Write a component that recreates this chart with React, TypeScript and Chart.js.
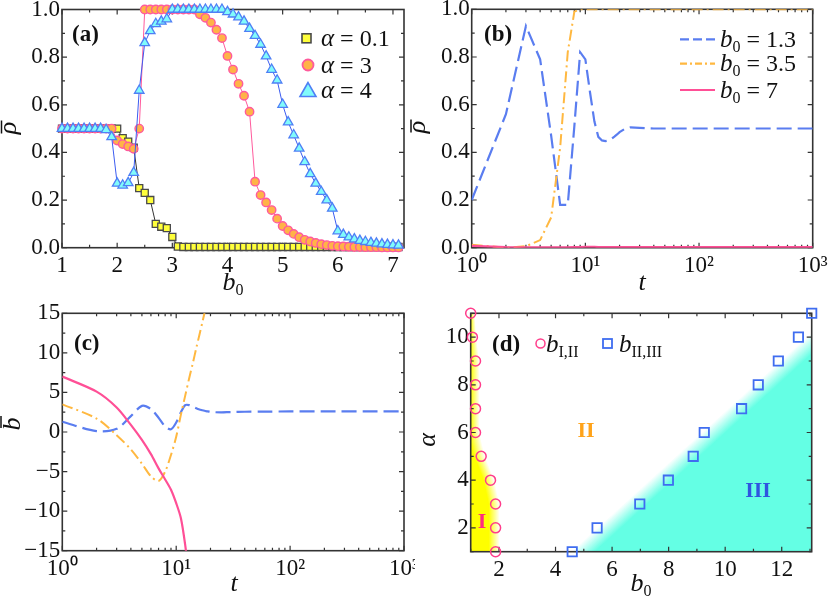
import React, { useEffect, useRef } from 'react';
import { Chart, registerables } from 'chart.js';
Chart.register(...registerables);

// ---------------- data: panel (a) ----------------
const b0Values = [1.0, 1.1, 1.2, 1.3, 1.4, 1.5, 1.6, 1.7, 1.8, 1.9, 2.0, 2.1, 2.2, 2.3, 2.4, 2.5, 2.6, 2.7, 2.8, 2.9, 3.0, 3.1, 3.2, 3.3, 3.4, 3.5, 3.6, 3.7, 3.8, 3.9, 4.0, 4.1, 4.2, 4.3, 4.4, 4.5, 4.6, 4.7, 4.8, 4.9, 5.0, 5.1, 5.2, 5.3, 5.4, 5.5, 5.6, 5.7, 5.8, 5.9, 6.0, 6.1, 6.2, 6.3, 6.4, 6.5, 6.6, 6.7, 6.8, 6.9, 7.0, 7.1];
const rhoAlpha01 = [0.5, 0.5, 0.5, 0.5, 0.5, 0.5, 0.5, 0.5, 0.5, 0.5, 0.5, 0.46, 0.445, 0.42, 0.25, 0.23, 0.2, 0.1, 0.088, 0.082, 0.045, 0.005, 0.003, 0.003, 0.003, 0.003, 0.003, 0.003, 0.003, 0.003, 0.003, 0.003, 0.003, 0.003, 0.003, 0.003, 0.003, 0.003, 0.003, 0.003, 0.003, 0.003, 0.003, 0.003, 0.003, 0.003, 0.003, 0.003, 0.003, 0.003, 0.003, 0.003, 0.003, 0.003, 0.003, 0.003, 0.003, 0.003, 0.003, 0.003, 0.003, 0.003];
const rhoAlpha3 = [0.5, 0.5, 0.5, 0.5, 0.5, 0.5, 0.5, 0.5, 0.5, 0.5, 0.45, 0.435, 0.425, 0.415, 0.5, 1.0, 1.0, 1.0, 1.0, 1.0, 1.0, 1.0, 1.0, 1.0, 1.0, 0.98, 0.965, 0.945, 0.915, 0.88, 0.805, 0.748, 0.688, 0.638, 0.571, 0.277, 0.221, 0.19, 0.158, 0.122, 0.091, 0.073, 0.058, 0.044, 0.033, 0.026, 0.02, 0.015, 0.011, 0.008, 0.006, 0.005, 0.004, 0.003, 0.003, 0.002, 0.002, 0.002, 0.001, 0.001, 0.001, 0.001];
const rhoAlpha4 = [0.5, 0.5, 0.5, 0.5, 0.5, 0.5, 0.5, 0.5, 0.495, 0.465, 0.27, 0.262, 0.272, 0.315, 0.66, 0.86, 0.91, 0.94, 0.95, 0.96, 1.0, 1.0, 1.0, 1.0, 1.0, 1.0, 1.0, 1.0, 1.0, 1.0, 0.99, 0.98, 0.968, 0.95, 0.92, 0.89, 0.853, 0.804, 0.748, 0.703, 0.601, 0.527, 0.473, 0.417, 0.36, 0.31, 0.27, 0.235, 0.2, 0.165, 0.07, 0.055, 0.044, 0.036, 0.03, 0.025, 0.021, 0.018, 0.015, 0.013, 0.011, 0.01];

// ---------------- data: panels (b) and (c) ----------------
const tValues = [1, 2, 3, 4, 5, 6, 7, 8, 9, 10, 11, 12, 13, 14, 15, 16, 17, 18, 19, 20, 22, 25, 30, 40, 60, 100, 200, 500, 1000];
const rhoB13 = [0.2, 0.56, 0.93, 0.79, 0.47, 0.18, 0.18, 0.51, 0.82, 0.79, 0.65, 0.53, 0.465, 0.45, 0.447, 0.45, 0.457, 0.466, 0.475, 0.485, 0.497, 0.505, 0.503, 0.5, 0.5, 0.5, 0.5, 0.5, 0.5];
const rhoB35 = [0.012, 0.0, 0.006, 0.032, 0.127, 0.42, 0.82, 0.99, 1, 1, 1, 1, 1, 1, 1, 1, 1, 1, 1, 1, 1, 1, 1, 1, 1, 1, 1, 1, 1];
const rhoB7 = [0.008, 0.002, 0.001, 0.001, 0.001, 0.001, 0.001, 0.002, 0.003, 0.004, 0.004, 0.004, 0.003, 0.003, 0.003, 0.003, 0.003, 0.003, 0.003, 0.003, 0.003, 0.003, 0.003, 0.003, 0.003, 0.003, 0.003, 0.003, 0.003];
const bBar13 = [1.3, 0.1, 0.4, 2.0, 3.3, 2.9, 1.8, 0.7, 0.35, 1.2, 2.5, 3.4, 3.4, 3.2, 3.0, 2.85, 2.75, 2.65, 2.6, 2.55, 2.5, 2.48, 2.52, 2.56, 2.58, 2.6, 2.6, 2.6, 2.6];
const tShort = [1, 2, 3, 4, 5, 6, 7, 8, 9, 10, 11, 12, 13, 14, 15, 16, 17, 18, 19];
const bBar35 = [3.5, 1.7, -0.4, -2.2, -4.0, -5.6, -6.2, -5.0, -2.9, -0.6, 2.2, 4.6, 6.8, 8.7, 10.6, 12.3, 13.9, 15.5, 17.0];
const bBar7 = [7, 5.1, 3.1, 0.9, -1.0, -2.8, -4.6, -6.0, -7.3, -9.0, -10.9, -14.3, -18.5];

// ---------------- data: panel (d) ----------------
const alphaValues = [1, 2, 3, 4, 5, 6, 7, 8, 9, 10, 11];
const bI_II = [1.88, 1.88, 1.88, 1.7, 1.37, 1.17, 1.17, 1.17, 1.17, 1.06, 1.0];
const bII_III = [4.59, 5.47, 6.98, 7.99, 8.87, 9.26, 10.58, 11.17, 11.88, 12.59, 13.06];
const phaseIIIEdgeB0 = [4.55, 13.06];
const phaseIIIEdgeAlpha = [1, 10.2];

// ---------------- tick labels ----------------
const aXLabels = [1, 2, 3, 4, 5, 6, 7];
const aXMinor = [1.5, 2.5, 3.5, 4.5, 5.5, 6.5];
const rhoLabels = [0, 0.2, 0.4, 0.6, 0.8, 1.0];
const rhoMinor = [0.1, 0.3, 0.5, 0.7, 0.9];
const logLabels = [1, 10, 100, 1000];
const logMinor = [2, 3, 4, 5, 6, 7, 8, 9, 20, 30, 40, 50, 60, 70, 80, 90, 200, 300, 400, 500, 600, 700, 800, 900];
const cYLabels = [-15, -10, -5, 0, 5, 10, 15];
const cYMinor = [-12.5, -7.5, -2.5, 2.5, 7.5, 12.5];
const dXLabels = [2, 4, 6, 8, 10, 12];
const dXMinor = [1, 3, 5, 7, 9, 11, 13];
const dYLabels = [2, 4, 6, 8, 10];
const dYMinor = [1, 3, 5, 7, 9, 11];

// ---------------- styles ----------------
const W = 830, H = 598;
const YW = 55, XH = 30;
const FONT = '"Liberation Serif", "Times New Roman", serif';
const fnt = (style: string, size: number) => `${style} ${size}px ${FONT}`;
const BLUE = '#5a7df0';
const ORANGE = '#ffb840';
const PINK = '#ff4f96';
const SUP: Record<string, string> = { '0': '\u2070', '1': '\u00b9', '2': '\u00b2', '3': '\u00b3' };

type Area = { l: number; t: number; r: number; b: number };

function axis(type: string, min: number, max: number, labels: number[], fmt: (v: number) => string, horizontal: boolean, pad: number) {
  return {
    type, min, max,
    grid: { display: false, drawTicks: false },
    border: { display: false },
    ticks: {
      autoSkip: false, maxRotation: 0, minRotation: 0, padding: pad, color: '#111',
      font: { family: FONT, size: 23 },
      callback: (v: any) => fmt(Number(v)),
    },
    afterBuildTicks: (s: any) => { s.ticks = labels.map((v) => ({ value: v })); },
    afterFit: (s: any) => {
      if (horizontal) s.height = XH; else s.width = YW;
      s.paddingLeft = 0; s.paddingRight = 0; s.paddingTop = 0; s.paddingBottom = 0;
    },
  };
}

function baseOptions(area: Area, cw: number, xs: any, ys: any) {
  return {
    responsive: false, animation: false, events: [],
    layout: { autoPadding: false, padding: { left: area.l - YW, top: area.t, right: cw - area.r, bottom: H - area.b - XH } },
    plugins: { legend: { display: false }, tooltip: { enabled: false } },
    scales: { x: xs, y: ys },
  };
}

function drawFrame(chart: any, xMajor: number[], xMinor: number[], yMajor: number[], yMinor: number[]) {
  const { ctx, chartArea: a, scales } = chart;
  const xs = scales.x, ys = scales.y;
  ctx.save();
  ctx.strokeStyle = '#333';
  ctx.lineWidth = 1.2;
  ctx.beginPath();
  const xt = (v: number, len: number) => {
    const p = xs.getPixelForValue(v);
    ctx.moveTo(p, a.bottom); ctx.lineTo(p, a.bottom - len);
    ctx.moveTo(p, a.top); ctx.lineTo(p, a.top + len);
  };
  const yt = (v: number, len: number) => {
    const p = ys.getPixelForValue(v);
    ctx.moveTo(a.left, p); ctx.lineTo(a.left + len, p);
    ctx.moveTo(a.right, p); ctx.lineTo(a.right - len, p);
  };
  xMajor.forEach((v) => xt(v, 5));
  xMinor.forEach((v) => xt(v, 3));
  yMajor.forEach((v) => yt(v, 5));
  yMinor.forEach((v) => yt(v, 3));
  ctx.stroke();
  ctx.lineWidth = 1.6;
  ctx.strokeRect(a.left, a.top, a.right - a.left, a.bottom - a.top);
  ctx.restore();
}

type Seg = { t: string; f: string; dy?: number };
function richWidth(ctx: CanvasRenderingContext2D, segs: Seg[]) {
  let w = 0;
  for (const s of segs) { ctx.font = s.f; w += ctx.measureText(s.t).width; }
  return w;
}
function drawRich(ctx: CanvasRenderingContext2D, segs: Seg[], x: number, y: number, align: 'left' | 'center' = 'left', color = '#111') {
  const w = richWidth(ctx, segs);
  let cx = align === 'center' ? x - w / 2 : x;
  ctx.fillStyle = color;
  ctx.textBaseline = 'alphabetic';
  ctx.textAlign = 'left';
  for (const s of segs) {
    ctx.font = s.f;
    ctx.fillText(s.t, cx, y + (s.dy || 0));
    cx += ctx.measureText(s.t).width;
  }
  return w;
}
function rotTitle(ctx: CanvasRenderingContext2D, segs: Seg[], bx: number, cy: number, bar?: { off: number; len: number; shift: number }) {
  ctx.save();
  ctx.translate(bx, cy);
  ctx.rotate(-Math.PI / 2);
  drawRich(ctx, segs, 0, 0, 'center');
  if (bar) {
    ctx.strokeStyle = '#111';
    ctx.lineWidth = 1.5;
    ctx.beginPath();
    ctx.moveTo(-bar.len / 2 + bar.shift, -bar.off);
    ctx.lineTo(bar.len / 2 + bar.shift, -bar.off);
    ctx.stroke();
  }
  ctx.restore();
}

function interp(xsArr: number[], ysArr: number[], v: number) {
  if (v <= xsArr[0]) return ysArr[0];
  for (let i = 1; i < xsArr.length; i++) {
    if (v <= xsArr[i]) {
      const f = (v - xsArr[i - 1]) / (xsArr[i] - xsArr[i - 1]);
      return ysArr[i - 1] + f * (ysArr[i] - ysArr[i - 1]);
    }
  }
  return ysArr[ysArr.length - 1];
}

const pts = (xArr: number[], yArr: number[]) => yArr.map((y, i) => ({ x: xArr[i], y }));
const fmtRho = (v: number) => v.toFixed(1);
const fmtLog = (v: number) => '10' + SUP[String(Math.round(Math.log10(v)))];
const fmtInt = (v: number) => (v < 0 ? '\u2212' + Math.abs(v) : String(v));

// ---------------- panel configs ----------------
function configA(): any {
  const area: Area = { l: 62, t: 9.5, r: 404, b: 247.7 };
  return {
    type: 'scatter',
    data: {
      datasets: [
        { data: pts(b0Values, rhoAlpha01), showLine: true, borderColor: '#333', borderWidth: 1, pointStyle: 'rect', pointRadius: 5, pointBackgroundColor: '#ffff3a', pointBorderColor: '#4a4a4a', pointBorderWidth: 1.3, order: 3, clip: false },
        { data: pts(b0Values, rhoAlpha3), showLine: true, borderColor: '#ff5a9c', borderWidth: 1, pointStyle: 'circle', pointRadius: 4.2, pointBackgroundColor: '#ffb347', pointBorderColor: '#ff5a9c', pointBorderWidth: 1.4, order: 2, clip: false },
        { data: pts(b0Values, rhoAlpha4), showLine: true, borderColor: '#3c5cf0', borderWidth: 1, pointStyle: 'triangle', pointRadius: 5.5, pointBackgroundColor: '#80fbfb', pointBorderColor: '#4f7ff5', pointBorderWidth: 1.3, order: 1, clip: false },
      ],
    },
    options: baseOptions(area, W,
      axis('linear', 1, 7.2, aXLabels, (v) => String(v), true, 4),
      axis('linear', 0, 1, rhoLabels, fmtRho, false, 2)),
    plugins: [{
      id: 'decorA',
      beforeDatasetsDraw: (c: any) => drawFrame(c, aXLabels, aXMinor, rhoLabels, rhoMinor),
      afterDraw: (c: any) => {
        const ctx = c.ctx as CanvasRenderingContext2D;
        ctx.save();
        drawRich(ctx, [{ t: '(a)', f: fnt('bold', 23) }], 72, 41);
        const rows = [38.3, 65, 90.5];
        const mx = 306.5;
        ctx.fillStyle = '#ffff3a'; ctx.strokeStyle = '#4a4a4a'; ctx.lineWidth = 1.6;
        ctx.fillRect(mx - 4.5, rows[0] - 4.5, 9, 9); ctx.strokeRect(mx - 4.5, rows[0] - 4.5, 9, 9);
        ctx.beginPath(); ctx.arc(mx + 1.5, rows[1], 5.5, 0, Math.PI * 2);
        ctx.fillStyle = '#ffb347'; ctx.fill(); ctx.strokeStyle = '#ff5a9c'; ctx.lineWidth = 1.8; ctx.stroke();
        ctx.beginPath(); ctx.moveTo(mx + 1.5, rows[2] - 8); ctx.lineTo(mx - 6.5, rows[2] + 6); ctx.lineTo(mx + 9.5, rows[2] + 6); ctx.closePath();
        ctx.fillStyle = '#80fbfb'; ctx.fill(); ctx.strokeStyle = '#4f7ff5'; ctx.lineWidth = 1.6; ctx.stroke();
        const labels = [' = 0.1', ' = 3', ' = 4'];
        labels.forEach((l, i) => drawRich(ctx, [{ t: '\u03b1', f: fnt('italic', 25) }, { t: l, f: fnt('normal', 24) }], 321, rows[i] + 7.5));
        rotTitle(ctx, [{ t: '\u03c1', f: fnt('italic', 26) }], 15.5, 128, { off: 14, len: 13, shift: 1 });
        drawRich(ctx, [{ t: 'b', f: fnt('italic', 26) }, { t: '0', f: fnt('normal', 16), dy: 5 }], 233, 290, 'center');
        ctx.restore();
      },
    }],
  };
}

function configB(): any {
  const area: Area = { l: 471.7, t: 9.3, r: 812.7, b: 247.7 };
  return {
    type: 'scatter',
    data: {
      datasets: [
        { data: pts(tValues, rhoB7), showLine: true, borderColor: PINK, borderWidth: 2.2, pointRadius: 0, order: 1 },
        { data: pts(tValues, rhoB35), showLine: true, borderColor: ORANGE, borderWidth: 2, borderDash: [11, 4, 2, 4], pointRadius: 0, order: 2 },
        { data: pts(tValues, rhoB13), showLine: true, borderColor: BLUE, borderWidth: 2.2, borderDash: [15, 6], pointRadius: 0, order: 3 },
      ],
    },
    options: baseOptions(area, W,
      axis('logarithmic', 1, 1000, logLabels, fmtLog, true, 4),
      axis('linear', 0, 1, rhoLabels, fmtRho, false, 2)),
    plugins: [{
      id: 'decorB',
      beforeDatasetsDraw: (c: any) => drawFrame(c, logLabels, logMinor, rhoLabels, rhoMinor),
      afterDraw: (c: any) => {
        const ctx = c.ctx as CanvasRenderingContext2D;
        ctx.save();
        drawRich(ctx, [{ t: '(b)', f: fnt('bold', 23) }], 484, 41);
        const rows = [39.3, 63.7, 90];
        const styles: [string, number[]][] = [[BLUE, [9, 4]], [ORANGE, [7, 3, 2, 3]], [PINK, []]];
        const labels = [' = 1.3', ' = 3.5', ' = 7'];
        rows.forEach((y, i) => {
          ctx.strokeStyle = styles[i][0]; ctx.lineWidth = 2.2; ctx.setLineDash(styles[i][1]);
          ctx.beginPath(); ctx.moveTo(680, y); ctx.lineTo(715, y); ctx.stroke();
          ctx.setLineDash([]);
          drawRich(ctx, [{ t: 'b', f: fnt('italic', 25) }, { t: '0', f: fnt('normal', 16), dy: 5 }, { t: labels[i], f: fnt('normal', 24) }], 720, y + 7.5);
        });
        rotTitle(ctx, [{ t: '\u03c1', f: fnt('italic', 26) }], 425, 127, { off: 14, len: 13, shift: 1 });
        drawRich(ctx, [{ t: 't', f: fnt('italic', 26) }], 642, 290, 'center');
        ctx.restore();
      },
    }],
  };
}

function configC(): any {
  const area: Area = { l: 62.3, t: 313.3, r: 404, b: 550.7 };
  return {
    type: 'scatter',
    data: {
      datasets: [
        { data: pts(tShort, bBar7), showLine: true, borderColor: PINK, borderWidth: 2.2, pointRadius: 0, tension: 0.3, order: 1 },
        { data: pts(tShort, bBar35), showLine: true, borderColor: ORANGE, borderWidth: 2, borderDash: [11, 4, 2, 4], pointRadius: 0, tension: 0.3, order: 2 },
        { data: pts(tValues, bBar13), showLine: true, borderColor: BLUE, borderWidth: 2.2, borderDash: [15, 6], pointRadius: 0, tension: 0.3, order: 3 },
      ],
    },
    options: baseOptions(area, 415,
      axis('logarithmic', 1, 1000, logLabels, fmtLog, true, 4),
      axis('linear', -15, 15, cYLabels, fmtInt, false, 2)),
    plugins: [{
      id: 'decorC',
      beforeDatasetsDraw: (c: any) => drawFrame(c, logLabels, logMinor, cYLabels, cYMinor),
      afterDraw: (c: any) => {
        const ctx = c.ctx as CanvasRenderingContext2D;
        ctx.save();
        drawRich(ctx, [{ t: '(c)', f: fnt('bold', 23) }], 74, 350);
        rotTitle(ctx, [{ t: 'b', f: fnt('italic', 26) }], 20, 424, { off: 19, len: 12, shift: 2 });
        drawRich(ctx, [{ t: 't', f: fnt('italic', 26) }], 234, 591, 'center');
        ctx.restore();
      },
    }],
  };
}

function configD(): any {
  const area: Area = { l: 470.7, t: 313.3, r: 811.7, b: 551.7 };
  return {
    type: 'scatter',
    data: {
      datasets: [
        { data: pts(bI_II, alphaValues), pointStyle: 'circle', pointRadius: 5, pointBackgroundColor: 'rgba(0,0,0,0)', pointBorderColor: '#ff3d8b', pointBorderWidth: 1.5, clip: false },
        { data: pts(bII_III, alphaValues), pointStyle: 'rect', pointRadius: 6.6, pointBackgroundColor: 'rgba(0,0,0,0)', pointBorderColor: '#3f6df0', pointBorderWidth: 1.8, clip: false },
      ],
    },
    options: baseOptions(area, W,
      axis('linear', 1, 13.06, dXLabels, fmtInt, true, 4),
      axis('linear', 1, 11, dYLabels, fmtInt, false, 2)),
    plugins: [{
      id: 'decorD',
      beforeDatasetsDraw: (c: any) => {
        const ctx = c.ctx as CanvasRenderingContext2D;
        const a = c.chartArea; const xs = c.scales.x; const ys = c.scales.y;
        ctx.save();
        ctx.beginPath(); ctx.rect(a.left, a.top, a.right - a.left, a.bottom - a.top); ctx.clip();
        for (let py = Math.floor(a.top); py < a.bottom; py++) {
          const al = ys.getValueForPixel(py + 0.5);
          const px = xs.getPixelForValue(interp(alphaValues, bI_II, al));
          const end = px + 4;
          const wdt = Math.max(1, end - a.left);
          const g = ctx.createLinearGradient(a.left, 0, a.left + wdt, 0);
          const s = Math.max(0, Math.min(1, (px - 7 - a.left) / wdt));
          g.addColorStop(0, 'rgba(255,255,0,1)');
          g.addColorStop(s, 'rgba(255,255,0,1)');
          g.addColorStop(1, 'rgba(255,255,0,0)');
          ctx.fillStyle = g;
          ctx.fillRect(a.left, py, wdt, 1);
        }
        const x1 = xs.getPixelForValue(phaseIIIEdgeB0[0]), y1 = ys.getPixelForValue(phaseIIIEdgeAlpha[0]);
        const x2 = xs.getPixelForValue(phaseIIIEdgeB0[1]), y2 = ys.getPixelForValue(phaseIIIEdgeAlpha[1]);
        const L = Math.hypot(x2 - x1, y2 - y1);
        const dx = (x2 - x1) / L, dy = (y2 - y1) / L;
        const nx = -dy, ny = dx;
        const fw = 16;
        const g2 = ctx.createLinearGradient(x1, y1, x1 + nx * fw, y1 + ny * fw);
        g2.addColorStop(0, 'rgba(100,255,228,0)');
        g2.addColorStop(1, 'rgba(100,255,228,1)');
        ctx.fillStyle = g2;
        ctx.beginPath();
        ctx.moveTo(x1 - dx * 1000, y1 - dy * 1000);
        ctx.lineTo(x2 + dx * 1000, y2 + dy * 1000);
        ctx.lineTo(x2 + dx * 1000 + nx * 2000, y2 + dy * 1000 + ny * 2000);
        ctx.lineTo(x1 - dx * 1000 + nx * 2000, y1 - dy * 1000 + ny * 2000);
        ctx.closePath();
        ctx.fill();
        ctx.restore();
        drawFrame(c, dXLabels, dXMinor, dYLabels, dYMinor);
      },
      afterDraw: (c: any) => {
        const ctx = c.ctx as CanvasRenderingContext2D;
        ctx.save();
        drawRich(ctx, [{ t: 'I', f: fnt('bold', 22) }], 482, 528, 'center', '#ff2a7f');
        drawRich(ctx, [{ t: 'II', f: fnt('bold', 22) }], 586, 437, 'center', '#ffa31a');
        drawRich(ctx, [{ t: 'III', f: fnt('bold', 22) }], 758, 497, 'center', '#2f55e0');
        drawRich(ctx, [{ t: '(d)', f: fnt('bold', 23) }], 492, 351);
        ctx.strokeStyle = '#ff3d8b'; ctx.lineWidth = 1.5;
        ctx.beginPath(); ctx.arc(540.5, 343.5, 4.5, 0, Math.PI * 2); ctx.stroke();
        drawRich(ctx, [{ t: 'b', f: fnt('italic', 25) }, { t: 'I,II', f: fnt('normal', 16), dy: 5 }], 546, 351.5);
        ctx.strokeStyle = '#3f6df0'; ctx.lineWidth = 1.8;
        ctx.strokeRect(603, 339, 9, 9);
        drawRich(ctx, [{ t: 'b', f: fnt('italic', 25) }, { t: 'II,III', f: fnt('normal', 16), dy: 5 }], 619, 351.5);
        rotTitle(ctx, [{ t: '\u03b1', f: fnt('italic', 26) }], 434.5, 440);
        drawRich(ctx, [{ t: 'b', f: fnt('italic', 26) }, { t: '0', f: fnt('normal', 16), dy: 5 }], 641, 591, 'center');
        ctx.restore();
      },
    }],
  };
}

export default function App() {
  const ra = useRef<HTMLCanvasElement>(null);
  const rb = useRef<HTMLCanvasElement>(null);
  const rc = useRef<HTMLCanvasElement>(null);
  const rd = useRef<HTMLCanvasElement>(null);
  useEffect(() => {
    const charts = [
      new Chart(ra.current as HTMLCanvasElement, configA()),
      new Chart(rb.current as HTMLCanvasElement, configB()),
      new Chart(rc.current as HTMLCanvasElement, configC()),
      new Chart(rd.current as HTMLCanvasElement, configD()),
    ];
    return () => charts.forEach((c) => c.destroy());
  }, []);
  const st: React.CSSProperties = { position: 'absolute', left: 0, top: 0 };
  return (
    <div style={{ position: 'fixed', left: 0, top: 0, width: W, height: H, background: '#fff', overflow: 'hidden' }}>
      <canvas ref={rd} width={W} height={H} style={{ ...st, width: W, height: H }} />
      <canvas ref={rc} width={415} height={H} style={{ ...st, width: 415, height: H }} />
      <canvas ref={rb} width={W} height={H} style={{ ...st, width: W, height: H }} />
      <canvas ref={ra} width={W} height={H} style={{ ...st, width: W, height: H }} />
    </div>
  );
}
